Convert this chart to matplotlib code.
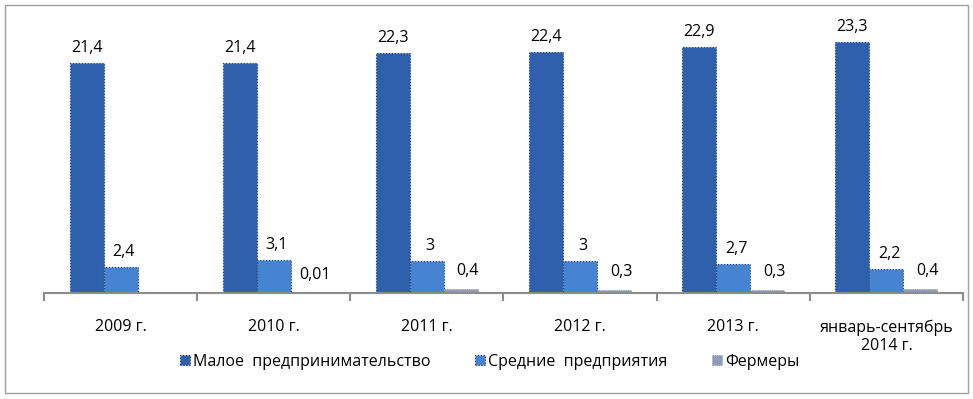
import matplotlib.pyplot as plt
import numpy as np
from matplotlib.patches import Rectangle

plt.rcParams['font.family'] = ['Open Sans', 'DejaVu Sans']

# Data
categories = ["2009 г.", "2010 г.", "2011 г.", "2012 г.", "2013 г.", "январь-сентябрь\n2014 г."]
small_biz = [21.4, 21.4, 22.3, 22.4, 22.9, 23.3]
medium_biz = [2.4, 3.1, 3, 3, 2.7, 2.2]
farmers = [0, 0.01, 0.4, 0.3, 0.3, 0.4]
farmer_labels = ["", "0,01", "0,4", "0,3", "0,3", "0,4"]
series_names = ["Малое  предпринимательство", "Средние  предприятия", "Фермеры"]

def fmt(v):
    return f"{v:g}".replace(".", ",")

fig = plt.figure(figsize=(9.73, 3.99), dpi=100)
ax = fig.add_axes([44 / 973, 106 / 399, 919 / 973, 269 / 399])

x = np.arange(len(categories))
w = 0.222
b1 = ax.bar(x - w, small_biz, w, color="#2E60AC", edgecolor="#1B3D70", linewidth=0.8, linestyle=":",
            label=series_names[0])
b2 = ax.bar(x, medium_biz, w, color="#4683D0", edgecolor="#1B3D70", linewidth=0.8, linestyle=":",
            label=series_names[1])
b3 = ax.bar(x + w, farmers, w, color="#8C9DB8", edgecolor="#7E8AA0", linewidth=0.6, linestyle=":",
            label=series_names[2])

fs = 11.5
for xi, v in zip(x, small_biz):
    ax.annotate(fmt(v), (xi - w, v), xytext=(0, 5), textcoords="offset points",
                ha="center", va="bottom", fontsize=fs)
for xi, v in zip(x, medium_biz):
    ax.annotate(fmt(v), (xi, v), xytext=(2, 5), textcoords="offset points",
                ha="center", va="bottom", fontsize=fs)
for xi, v, lab in zip(x, farmers, farmer_labels):
    ax.annotate(lab, (xi + w, v), xytext=(5, 7), textcoords="offset points",
                ha="center", va="bottom", fontsize=fs)

ax.set_xlim(-0.5, len(categories) - 0.5)
ax.set_ylim(0, 25)
ax.set_yticks([])
for s in ["top", "right", "left"]:
    ax.spines[s].set_visible(False)
ax.spines["bottom"].set_color("#8C8C8C")
ax.spines["bottom"].set_linewidth(1.5)

ax.set_xticks(np.arange(len(categories) + 1) - 0.5, minor=False)
ax.set_xticklabels([])
ax.tick_params(axis="x", length=6, width=1.5, color="#8C8C8C")
ax.set_xticks(x, minor=True)
ax.set_xticklabels(categories, minor=True, fontsize=fs)
ax.tick_params(axis="x", which="minor", length=0, pad=19)

leg = fig.legend(handles=[b1, b2, b3], loc="center", bbox_to_anchor=(490 / 973, 1 - 362 / 399),
                 ncol=3, frameon=False, fontsize=fs, handlelength=0.6, handleheight=0.6,
                 handletextpad=0.2, columnspacing=2.8)

fig.patches.append(Rectangle((5 / 973, 6 / 399), 963 / 973, 388 / 399, transform=fig.transFigure,
                             fill=False, edgecolor="#A0A0A0", linewidth=1))

fig.savefig("out.png", dpi=100)
